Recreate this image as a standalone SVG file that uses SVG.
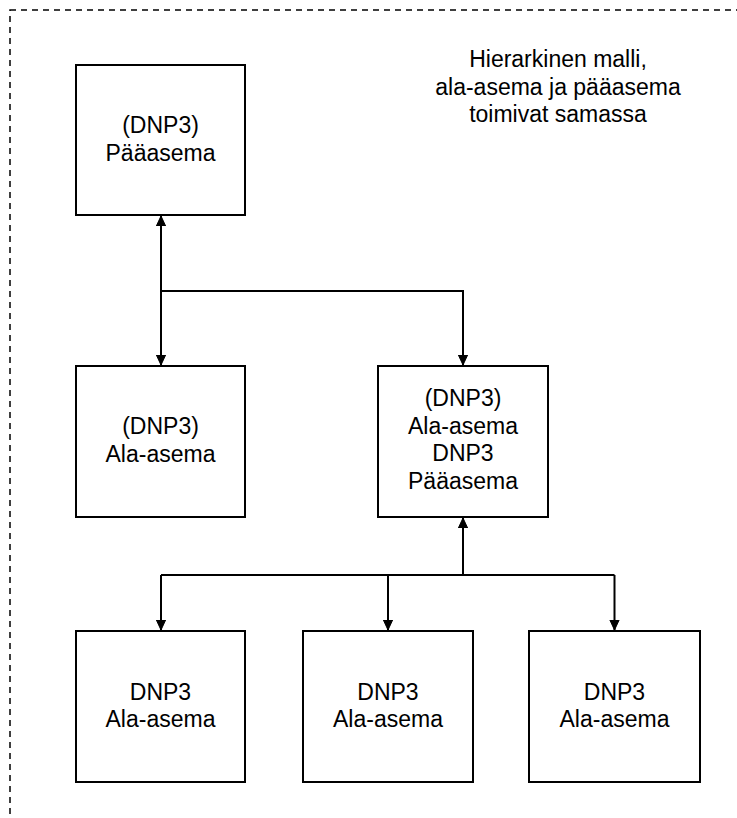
<svg xmlns="http://www.w3.org/2000/svg" width="737" height="818" viewBox="0 0 737 818">
<style>
.box{fill:#fff;stroke:#000;stroke-width:2}
.t{font-family:"Liberation Sans",Arial,sans-serif;font-size:23px;fill:#000;text-anchor:middle}
.c{fill:none;stroke:#000;stroke-width:2}
</style>
<defs>
<marker id="arr" markerUnits="userSpaceOnUse" markerWidth="20" markerHeight="20" viewBox="-10 -10 20 20" refX="0" refY="0" orient="auto">
<path d="M0,0 L-14,-6.5 L-10.5,0 L-14,6.5 Z" fill="#000" stroke="#000" stroke-width="1"/>
</marker>
</defs>
<rect x="10" y="10" width="800" height="900" fill="none" stroke="#000" stroke-width="1.5" stroke-dasharray="6 5"/>
<g id="note">
<text class="t" x="558" y="67">Hierarkinen malli,</text>
<text class="t" x="558" y="94.6">ala-asema ja pääasema</text>
<text class="t" x="558" y="122.2">toimivat samassa</text>
</g>
<g id="paaasema">
<rect class="box" x="76" y="65" width="169" height="150"/>
<text class="t" x="160.5" y="133">(DNP3)</text>
<text class="t" x="160.5" y="160.6">Pääasema</text>
</g>
<g id="ala-asema1">
<rect class="box" x="76" y="366" width="169" height="151"/>
<text class="t" x="160.5" y="434">(DNP3)</text>
<text class="t" x="160.5" y="461.6">Ala-asema</text>
</g>
<g id="ala-asema2">
<rect class="box" x="378" y="366" width="170" height="151"/>
<text class="t" x="463" y="406">(DNP3)</text>
<text class="t" x="463" y="433.6">Ala-asema</text>
<text class="t" x="463" y="461.2">DNP3</text>
<text class="t" x="463" y="488.8">Pääasema</text>
</g>
<g id="ala3">
<rect class="box" x="76" y="631" width="169" height="151"/>
<text class="t" x="160.5" y="699.5">DNP3</text>
<text class="t" x="160.5" y="727">Ala-asema</text>
</g>
<g id="ala4">
<rect class="box" x="303" y="631" width="170" height="151"/>
<text class="t" x="388" y="699.5">DNP3</text>
<text class="t" x="388" y="727">Ala-asema</text>
</g>
<g id="ala5">
<rect class="box" x="529" y="631" width="171" height="151"/>
<text class="t" x="614.5" y="699.5">DNP3</text>
<text class="t" x="614.5" y="727">Ala-asema</text>
</g>
<g id="connectors">
<path class="c" d="M161,291 L161,216" marker-end="url(#arr)"/>
<path class="c" d="M161,291 L161,365" marker-end="url(#arr)"/>
<path class="c" d="M161,291 L463,291 L463,365" marker-end="url(#arr)"/>
<path class="c" d="M463,575 L463,518" marker-end="url(#arr)"/>
<path class="c" d="M161,575 L614.5,575"/>
<path class="c" d="M161,575 L161,630" marker-end="url(#arr)"/>
<path class="c" d="M388,575 L388,630" marker-end="url(#arr)"/>
<path class="c" d="M614.5,575 L614.5,630" marker-end="url(#arr)"/>
</g>
</svg>
